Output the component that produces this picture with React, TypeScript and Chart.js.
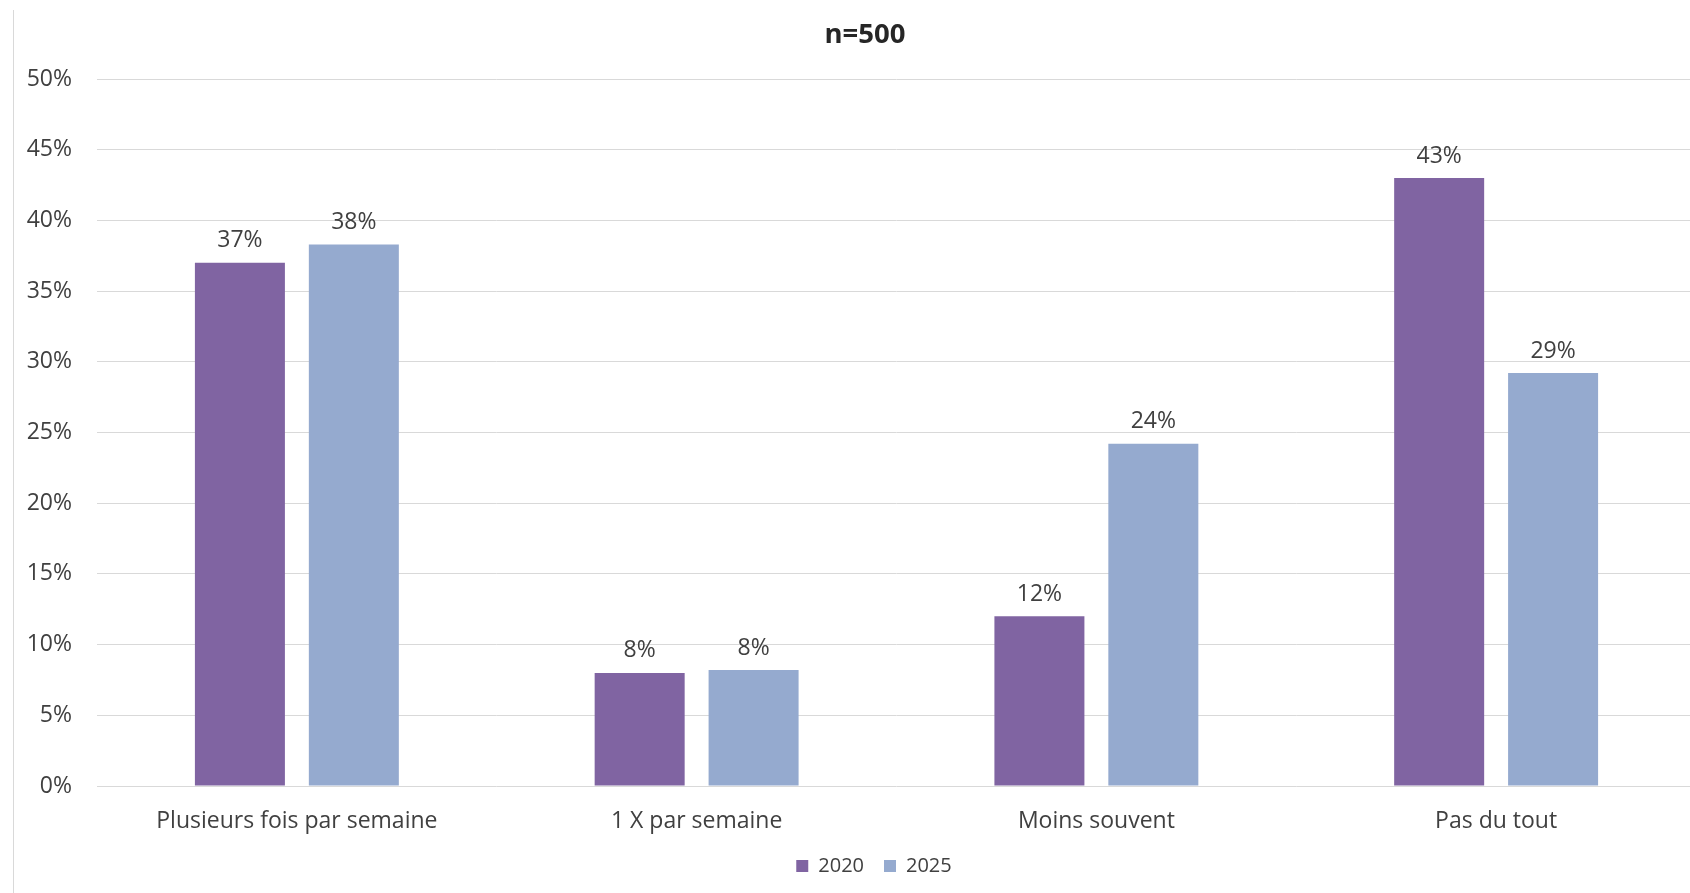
import React, { useEffect, useRef } from "react";
import { Chart, registerables } from "chart.js";

Chart.register(...registerables);

const chartTitle = "n=500";
const categories = ["Plusieurs fois par semaine", "1 X par semaine", "Moins souvent", "Pas du tout"];
const seriesNames = ["2020", "2025"];
const values2020 = [37.0, 8.0, 12.0, 43.0];
const values2025 = [38.3, 8.2, 24.2, 29.2];
const yMin = 0;
const yMax = 50;
const yStep = 5;

const COLORS = ["#8064A2", "#95AACF"];
const FONT = "'Open Sans', 'DejaVu Sans', sans-serif";
const TEXT = "#404040";

const valueLabels = {
  id: "valueLabels",
  afterDatasetsDraw(chart: any) {
    const ctx = chart.ctx;
    ctx.save();
    ctx.font = `23px ${FONT}`;
    ctx.fillStyle = TEXT;
    ctx.textAlign = "center";
    ctx.textBaseline = "middle";
    chart.data.datasets.forEach((ds: any, i: number) => {
      const meta = chart.getDatasetMeta(i);
      meta.data.forEach((bar: any, j: number) => {
        const v = ds.data[j];
        ctx.fillText(`${Math.round(v)}%`, bar.x, bar.y - 22);
      });
    });
    ctx.restore();
  },
};

// Centre title and legend on the whole chart frame (the frame is cropped on the right).
const centreBoxes = {
  id: "centreBoxes",
  afterLayout(chart: any) {
    if (chart.titleBlock) chart.titleBlock.left += 20;
    if (chart.legend) chart.legend.left += 38;
  },
};

export default function App() {
  const ref = useRef<HTMLCanvasElement | null>(null);

  useEffect(() => {
    if (!ref.current) return;
    const chart = new Chart(ref.current, {
      type: "bar",
      data: {
        labels: categories,
        datasets: [
          { label: seriesNames[0], data: values2020, backgroundColor: COLORS[0] },
          { label: seriesNames[1], data: values2025, backgroundColor: COLORS[1] },
        ],
      },
      options: {
        animation: false,
        responsive: false,
        devicePixelRatio: 1,
        layout: { padding: { left: 0, right: 20, top: 0, bottom: 7 } },
        datasets: {
          bar: { categoryPercentage: 0.57, barPercentage: 0.79 },
        },
        plugins: {
          title: {
            display: true,
            text: chartTitle,
            color: "#262626",
            font: { family: FONT, size: 27.5, weight: "bold", lineHeight: 1.2 },
            padding: { top: 8.5, bottom: 27.5 },
          },
          legend: {
            position: "bottom",
            labels: {
              boxWidth: 12,
              boxHeight: 12,
              padding: 20,
              color: TEXT,
              font: { family: FONT, size: 20 },
            },
          },
          tooltip: { enabled: false },
        },
        scales: {
          x: {
            grid: { display: false, drawTicks: false },
            border: { display: false },
            ticks: { color: TEXT, font: { family: FONT, size: 23 }, padding: 22, maxRotation: 0 },
            afterFit: (s: any) => {
              s.height = 50;
            },
          },
          y: {
            min: yMin,
            max: yMax,
            grid: { color: "#D9D9D9", lineWidth: 1, drawTicks: false },
            border: { display: false },
            ticks: {
              stepSize: yStep,
              color: TEXT,
              font: { family: FONT, size: 23 },
              padding: 25,
              callback: (v: any) => `${v}%`,
            },
            afterFit: (s: any) => {
              s.width = 83;
            },
          },
        },
      },
      plugins: [valueLabels, centreBoxes],
    });
    return () => chart.destroy();
  }, []);

  return (
    <div style={{ position: "fixed", left: 0, top: 0, width: 1690, height: 893, overflow: "hidden", background: "#fff" }}>
      <div style={{ position: "absolute", left: 13, top: 10, width: 1703, height: 883, borderLeft: "1px solid #D9D9D9", boxSizing: "border-box" }}>
        <canvas ref={ref} width={1702} height={883} style={{ display: "block" }} />
      </div>
    </div>
  );
}
